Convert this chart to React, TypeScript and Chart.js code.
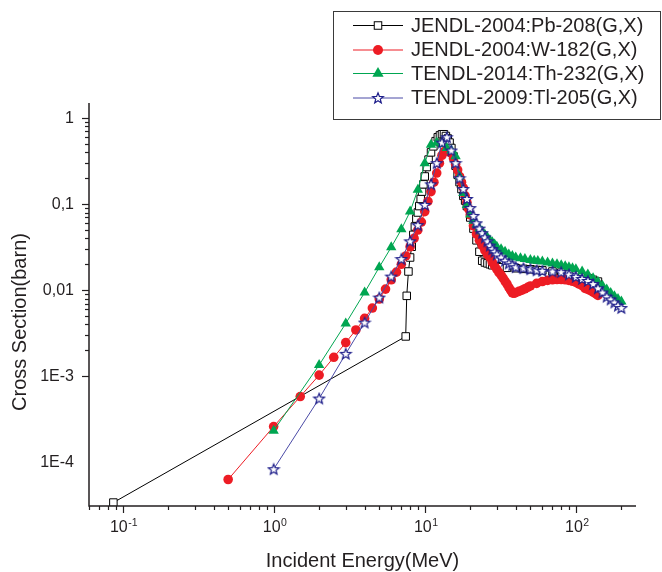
import React, { useEffect, useRef } from "react";
import { Chart, registerables } from "chart.js";

Chart.register(...registerables);

// ---------- DATA ----------
const seriesNames = [
  "JENDL-2004:Pb-208(G,X)",
  "JENDL-2004:W-182(G,X)",
  "TENDL-2014:Th-232(G,X)",
  "TENDL-2009:Tl-205(G,X)",
];

const pbEnergy = [0.087, 7.48, 7.6, 7.8, 8.0, 8.2, 8.4, 8.6, 8.8, 9.0, 9.2, 9.4, 9.6, 9.8, 10.0, 10.3, 10.6, 11.0, 11.4, 11.8, 12.2, 12.6, 13.0, 13.4, 13.8, 14.2, 14.6, 15.0, 15.5, 16.0, 16.5, 17.0, 17.5, 18, 18.5, 19, 20, 21, 22, 23, 24, 25, 26, 27, 28, 30, 32, 35, 40, 45, 50, 55, 60, 70, 80, 90, 100, 110, 120, 130, 140];
const pbXs = [3.4e-5, 2.9e-3, 8.6e-3, 0.0165, 0.024, 0.032, 0.044, 0.055, 0.068, 0.08, 0.095, 0.115, 0.14, 0.17, 0.21, 0.27, 0.33, 0.4, 0.47, 0.54, 0.6, 0.63, 0.65, 0.65, 0.62, 0.58, 0.52, 0.45, 0.36, 0.28, 0.22, 0.18, 0.15, 0.125, 0.11, 0.095, 0.07, 0.052, 0.038, 0.028, 0.022, 0.021, 0.0205, 0.02, 0.0195, 0.019, 0.0185, 0.0182, 0.018, 0.0177, 0.0175, 0.0172, 0.017, 0.0165, 0.016, 0.0155, 0.015, 0.0144, 0.0138, 0.0132, 0.0126];

const wEnergy = [0.5, 1.0, 1.5, 2.0, 2.5, 3.0, 3.5, 4.0, 4.5, 5.0, 5.5, 6.0, 6.5, 7.0, 7.5, 8.0, 8.5, 9.0, 9.5, 10.0, 10.5, 11.0, 11.5, 12.0, 12.5, 13.0, 13.5, 14.0, 14.5, 15.0, 15.5, 16.0, 16.5, 17.0, 17.5, 18.0, 18.5, 19.0, 19.5, 20, 21, 22, 23, 24, 25, 26, 27, 28, 29, 30, 31, 32, 33, 34, 35, 36, 37, 38, 39, 40, 42, 44, 46, 48, 50, 55, 60, 65, 70, 75, 80, 85, 90, 95, 100, 105, 110, 115, 120, 125, 130, 135, 140];
const wXs = [6.3e-5, 2.6e-4, 5.8e-4, 1.03e-3, 1.66e-3, 2.46e-3, 3.45e-3, 4.7e-3, 6.2e-3, 7.9e-3, 0.0103, 0.0132, 0.0162, 0.02, 0.025, 0.032, 0.04, 0.05, 0.062, 0.082, 0.108, 0.14, 0.18, 0.23, 0.3, 0.37, 0.41, 0.42, 0.41, 0.39, 0.34, 0.29, 0.25, 0.21, 0.18, 0.155, 0.125, 0.105, 0.088, 0.075, 0.056, 0.045, 0.038, 0.033, 0.029, 0.026, 0.024, 0.021, 0.019, 0.0175, 0.016, 0.015, 0.0138, 0.0127, 0.0118, 0.0108, 0.01, 0.0093, 0.0092, 0.0094, 0.0097, 0.01, 0.0104, 0.0108, 0.0112, 0.012, 0.0126, 0.013, 0.0132, 0.0133, 0.0133, 0.0132, 0.013, 0.0127, 0.0123, 0.0118, 0.0113, 0.0105, 0.0102, 0.0099, 0.0095, 0.0091, 0.0087];

const thEnergy = [1, 2, 3, 4, 5, 6, 7, 8, 9, 10, 11, 12, 13, 14, 15, 16, 17, 18, 19, 20, 21, 22, 23, 24, 25, 26, 27, 28, 29, 30, 32, 34, 36, 38, 40, 43, 46, 50, 53, 56, 60, 65, 70, 75, 80, 85, 90, 95, 100, 110, 120, 130, 140, 150, 160, 170, 180, 190, 200];
const thXs = [2.33e-4, 1.35e-3, 4.1e-3, 9.4e-3, 0.0185, 0.0316, 0.051, 0.082, 0.147, 0.3, 0.49, 0.52, 0.5, 0.45, 0.42, 0.36, 0.21, 0.135, 0.098, 0.076, 0.064, 0.058, 0.052, 0.048, 0.044, 0.041, 0.038, 0.036, 0.034, 0.032, 0.03, 0.028, 0.026, 0.025, 0.024, 0.0235, 0.023, 0.0225, 0.022, 0.0218, 0.0215, 0.021, 0.0205, 0.02, 0.0195, 0.019, 0.0185, 0.018, 0.0175, 0.0165, 0.0152, 0.0138, 0.0125, 0.0113, 0.0102, 0.0093, 0.0085, 0.0079, 0.0074];

const tlEnergy = [1, 2, 3, 4, 5, 6, 7, 8, 9, 10, 11, 12, 13, 14, 15, 16, 17, 18, 19, 20, 21, 22, 23, 24, 25, 26, 27, 28, 29, 30, 32, 34, 36, 38, 40, 45, 50, 55, 60, 70, 80, 90, 100, 110, 120, 130, 140, 150, 160, 170, 180, 190, 200];
const tlXs = [8.3e-5, 5.5e-4, 1.82e-3, 4.2e-3, 8.2e-3, 0.0144, 0.023, 0.037, 0.057, 0.098, 0.17, 0.3, 0.52, 0.6, 0.42, 0.3, 0.2, 0.15, 0.115, 0.09, 0.073, 0.06, 0.052, 0.046, 0.041, 0.037, 0.033, 0.03, 0.028, 0.026, 0.024, 0.022, 0.0205, 0.0195, 0.0185, 0.018, 0.0175, 0.017, 0.0168, 0.0165, 0.0162, 0.0152, 0.0143, 0.0135, 0.0128, 0.0118, 0.0105, 0.0094, 0.0084, 0.0078, 0.0072, 0.0066, 0.0062];

const xTickExponents = ["-1", "0", "1", "2"];
const xTickValues = [0.1, 1, 10, 100];
const yTickValues = [1, 0.1, 0.01, 0.001, 0.0001];
const yTickLabels = ["1", "0,1", "0,01", "1E-3", "1E-4"];
const xTitle = "Incident Energy(MeV)";
const yTitle = "Cross Section(barn)";

// ---------- STYLE ----------
const FONT = "'Liberation Sans', Arial, sans-serif";
const TEXT = "#231f20";
const RED = "#ed1c24";
const GREEN = "#00a651";
const NAVY_LINE = "#4a4aa6";
const NAVY = "#1d1d8a";

function makeStar(): HTMLCanvasElement {
  const c = document.createElement("canvas");
  c.width = 14;
  c.height = 14;
  const g = c.getContext("2d")!;
  const cx = 7, cy = 7.4, R = 5.6, r = 2.4;
  g.beginPath();
  for (let i = 0; i < 10; i++) {
    const rad = i % 2 === 0 ? R : r;
    const a = -Math.PI / 2 + (i * Math.PI) / 5;
    const px = cx + rad * Math.cos(a);
    const py = cy + rad * Math.sin(a);
    if (i === 0) g.moveTo(px, py);
    else g.lineTo(px, py);
  }
  g.closePath();
  g.fillStyle = "#fff";
  g.fill();
  g.strokeStyle = NAVY;
  g.lineWidth = 1.2;
  g.stroke();
  return c;
}

const toPts = (xs: number[], ys: number[]) => xs.map((x, i) => ({ x, y: ys[i] }));

export default function App() {
  const ref = useRef<HTMLCanvasElement>(null);

  useEffect(() => {
    const canvas = ref.current!;
    const star = makeStar();

    const drawMarker = (ctx: CanvasRenderingContext2D, kind: number, x: number, y: number) => {
      ctx.save();
      if (kind === 0) {
        const s = 3.75;
        ctx.fillStyle = "#fff";
        ctx.strokeStyle = "#000";
        ctx.lineWidth = 1;
        ctx.fillRect(x - s, y - s, 2 * s, 2 * s);
        ctx.strokeRect(x - s, y - s, 2 * s, 2 * s);
      } else if (kind === 1) {
        ctx.fillStyle = RED;
        ctx.beginPath();
        ctx.arc(x, y, 5, 0, Math.PI * 2);
        ctx.fill();
      } else if (kind === 2) {
        const r = 6.5;
        ctx.fillStyle = GREEN;
        ctx.beginPath();
        ctx.moveTo(x, y - r);
        ctx.lineTo(x + r * Math.sin((2 * Math.PI) / 3), y - r * Math.cos((2 * Math.PI) / 3));
        ctx.lineTo(x + r * Math.sin((4 * Math.PI) / 3), y - r * Math.cos((4 * Math.PI) / 3));
        ctx.closePath();
        ctx.fill();
      } else {
        ctx.drawImage(star, x - 7, y - 7);
      }
      ctx.restore();
    };

    const decorPlugin = {
      id: "decor",
      afterDraw(chart: any) {
        const { ctx, chartArea: ca, scales } = chart;
        const xs = scales.x, ys = scales.y;
        ctx.save();
        // axes
        ctx.strokeStyle = TEXT;
        ctx.lineWidth = 1.5;
        ctx.beginPath();
        ctx.moveTo(ca.left, ca.top);
        ctx.lineTo(ca.left, ca.bottom);
        ctx.lineTo(ca.right, ca.bottom);
        ctx.stroke();
        // ticks
        ctx.lineWidth = 1.2;
        for (let d = -3; d <= 3; d++) {
          for (let m = 1; m <= 9; m++) {
            const v = m * Math.pow(10, d);
            if (v >= xs.min - 1e-12 && v <= xs.max) {
              const px = Math.round(xs.getPixelForValue(v)) + 0.5;
              const len = m === 1 ? 7 : 4;
              ctx.beginPath();
              ctx.moveTo(px, ca.bottom);
              ctx.lineTo(px, ca.bottom + len);
              ctx.stroke();
            }
            if (v >= ys.min && v <= ys.max) {
              const py = Math.round(ys.getPixelForValue(v)) + 0.5;
              const len = m === 1 ? 7 : 4;
              ctx.beginPath();
              ctx.moveTo(ca.left, py);
              ctx.lineTo(ca.left - len, py);
              ctx.stroke();
            }
          }
        }
        // y tick labels
        ctx.fillStyle = TEXT;
        ctx.font = `16px ${FONT}`;
        ctx.textAlign = "right";
        ctx.textBaseline = "middle";
        yTickValues.forEach((v, i) => {
          ctx.fillText(yTickLabels[i], ca.left - 15, ys.getPixelForValue(v));
        });
        // x tick labels with superscript
        ctx.textAlign = "left";
        ctx.textBaseline = "alphabetic";
        xTickValues.forEach((v, i) => {
          const px = xs.getPixelForValue(v);
          ctx.font = `16px ${FONT}`;
          const w1 = ctx.measureText("10").width;
          ctx.font = `10.5px ${FONT}`;
          const w2 = ctx.measureText(xTickExponents[i]).width;
          const x0 = px - (w1 + w2) / 2 + 1;
          ctx.font = `16px ${FONT}`;
          ctx.fillText("10", x0, ca.bottom + 26);
          ctx.font = `10.5px ${FONT}`;
          ctx.fillText(xTickExponents[i], x0 + w1 + 0.5, ca.bottom + 20);
        });
        // axis titles
        ctx.font = `20px ${FONT}`;
        ctx.textAlign = "center";
        ctx.textBaseline = "middle";
        ctx.fillText(xTitle, (ca.left + ca.right) / 2, 561);
        ctx.save();
        ctx.translate(20, 322);
        ctx.rotate(-Math.PI / 2);
        ctx.fillText(yTitle, 0, 0);
        ctx.restore();

        // legend
        ctx.strokeStyle = "#3a3a3a";
        ctx.lineWidth = 1;
        ctx.strokeRect(333.5, 11.5, 327, 108);
        const rows = [25, 49.5, 73, 97.5];
        const lineColors = ["#000", RED, GREEN, NAVY_LINE];
        ctx.font = `20px ${FONT}`;
        ctx.textAlign = "left";
        ctx.textBaseline = "middle";
        rows.forEach((ry, i) => {
          ctx.strokeStyle = lineColors[i];
          ctx.lineWidth = 1;
          ctx.beginPath();
          ctx.moveTo(353, ry + 0.5);
          ctx.lineTo(403, ry + 0.5);
          ctx.stroke();
          drawMarker(ctx, i, 378, ry + 0.5);
          ctx.fillStyle = TEXT;
          ctx.fillText(seriesNames[i], 411, ry + 1);
        });
        ctx.restore();
      },
    };

    const chart = new Chart(canvas, {
      type: "scatter",
      data: {
        datasets: [
          {
            label: seriesNames[0],
            data: toPts(pbEnergy, pbXs),
            showLine: true,
            borderColor: "#000",
            borderWidth: 1,
            pointStyle: "rect",
            pointRadius: 5.3,
            pointBackgroundColor: "#fff",
            pointBorderColor: "#000",
            pointBorderWidth: 1,
            order: 4,
          },
          {
            label: seriesNames[1],
            data: toPts(wEnergy, wXs),
            showLine: true,
            borderColor: RED,
            borderWidth: 1,
            pointStyle: "circle",
            pointRadius: 4.8,
            pointBackgroundColor: RED,
            pointBorderColor: RED,
            pointBorderWidth: 0,
            order: 3,
          },
          {
            label: seriesNames[2],
            data: toPts(thEnergy, thXs),
            showLine: true,
            borderColor: GREEN,
            borderWidth: 1,
            pointStyle: "triangle",
            pointRadius: 6,
            pointBackgroundColor: GREEN,
            pointBorderColor: GREEN,
            pointBorderWidth: 0,
            order: 2,
          },
          {
            label: seriesNames[3],
            data: toPts(tlEnergy, tlXs),
            showLine: true,
            borderColor: NAVY_LINE,
            borderWidth: 1,
            pointStyle: star as any,
            pointRadius: 5,
            order: 1,
          },
        ],
      },
      options: {
        responsive: false,
        animation: false,
        devicePixelRatio: 1,
        events: [],
        layout: { padding: { left: 89, right: 26, top: 103, bottom: 66 } },
        plugins: { legend: { display: false }, tooltip: { enabled: false }, title: { display: false } },
        scales: {
          x: { type: "logarithmic", min: 0.06, max: 250, display: false },
          y: { type: "logarithmic", min: 3.1e-5, max: 1.5, display: false },
        },
      },
      plugins: [decorPlugin],
    });
    return () => chart.destroy();
  }, []);

  return (
    <div style={{ position: "absolute", left: 0, top: 0, width: 662, height: 572, background: "#fff" }}>
      <canvas ref={ref} width={662} height={572} style={{ display: "block", width: 662, height: 572 }} />
    </div>
  );
}
